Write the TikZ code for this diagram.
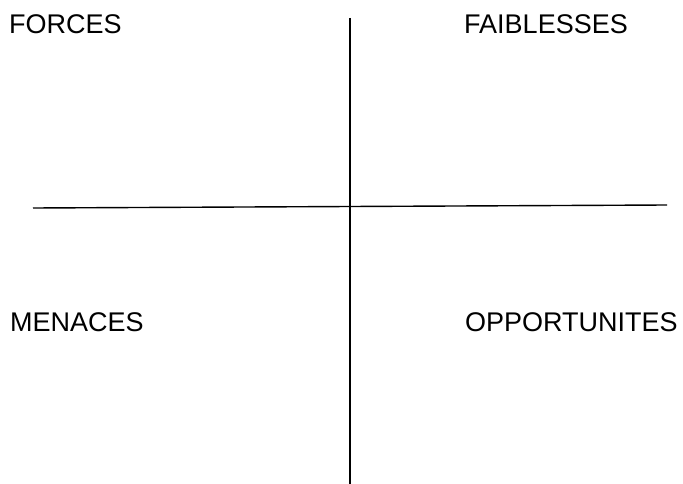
\documentclass[tikz,border=0pt]{standalone}
\usepackage{fontspec}
\setmainfont{Liberation Sans}
\begin{document}
\begin{tikzpicture}[x=1pt, y=-1pt]
        \tikzset{quadrant/.style={anchor=base west, inner sep=0pt, font=\fontsize{27}{30}\selectfont}}
        \useasboundingbox (0,0) rectangle (683,484);

        \coordinate (top) at (350,18);
        \coordinate (bottom) at (350,484);
        \coordinate (left) at (33,208);
        \coordinate (right) at (667,205);

        \draw[black, line width=1.4pt] (top) -- (bottom);
        \draw[black, line width=1.4pt] (left) -- (right);

        %quadrantes
        \node[quadrant] (forces) at (9,34) {FORCES};
        \node[quadrant] (faiblesses) at (464,34) {FAIBLESSES};
        \node[quadrant] (menaces) at (10,331) {MENACES};
        \node[quadrant] (opportunites) at (465,331) {OPPORTUNITES};

    \end{tikzpicture}
\end{document}
